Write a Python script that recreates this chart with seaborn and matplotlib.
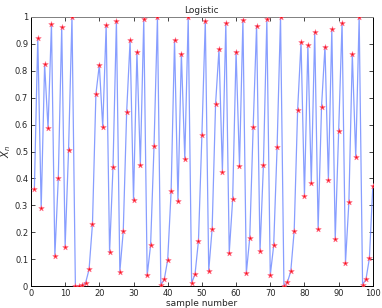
import numpy as np
import pandas as pd
import matplotlib
matplotlib.use("Agg")
import matplotlib.pyplot as plt
import seaborn as sns

sample = list(range(1, 101))
xn = [0.359, 0.922, 0.289, 0.824, 0.586, 0.973, 0.113, 0.401, 0.963, 0.147,
      0.504, 1.000, 0.000, 0.001, 0.003, 0.013, 0.062, 0.232, 0.713, 0.822,
      0.590, 0.969, 0.125, 0.441, 0.986, 0.053, 0.204, 0.648, 0.913, 0.320,
      0.871, 0.450, 0.991, 0.040, 0.152, 0.520, 0.999, 0.004, 0.025, 0.098,
      0.352, 0.914, 0.315, 0.864, 0.473, 0.998, 0.011, 0.045, 0.169, 0.560,
      0.986, 0.057, 0.214, 0.675, 0.880, 0.425, 0.977, 0.124, 0.322, 0.871,
      0.447, 0.989, 0.048, 0.180, 0.591, 0.968, 0.129, 0.451, 0.991, 0.040,
      0.151, 0.517, 1.000, 0.000, 0.014, 0.055, 0.206, 0.653, 0.907, 0.336,
      0.895, 0.382, 0.944, 0.211, 0.667, 0.890, 0.394, 0.955, 0.174, 0.575,
      0.979, 0.086, 0.313, 0.862, 0.478, 1.000, 0.005, 0.026, 0.104, 0.372]

df = pd.DataFrame({"n": sample, "x": xn})

sns.set_theme(style="ticks")
plt.rcParams["font.family"] = ["DejaVu Sans"]

fig = plt.figure(figsize=(3.82, 3.08), dpi=100)
ax = fig.add_axes([0.081, 0.071, 0.895, 0.874])

sns.lineplot(data=df, x="n", y="x", ax=ax, color="#6a86ff", lw=0.9, alpha=0.8)
sns.scatterplot(data=df, x="n", y="x", ax=ax, marker="*", color="red",
                s=18, edgecolor="#ff7090", linewidth=0.4, alpha=0.9, zorder=3)

ax.set_xlim(0, 100)
ax.set_ylim(0, 1)
ax.set_xticks(np.arange(0, 101, 10))
ax.set_yticks(np.arange(0, 1.01, 0.1))
ax.set_yticklabels(["0", "0.1", "0.2", "0.3", "0.4", "0.5", "0.6", "0.7", "0.8", "0.9", "1"])
ax.tick_params(direction="in", length=3, width=0.6, labelsize=6, pad=2, top=True, right=True)
for s in ax.spines.values():
    s.set_linewidth(0.7)
    s.set_color("black")
ax.spines["top"].set_color("#808080")
ax.set_xlabel("sample number", fontsize=6.5, labelpad=1)
ax.set_ylabel("$X_n$", fontsize=7)
ax.yaxis.set_label_coords(-0.052, 0.5)
ax.set_title("Logistic", fontsize=6.5, pad=3)

fig.savefig("out.png", dpi=100, facecolor="white")
